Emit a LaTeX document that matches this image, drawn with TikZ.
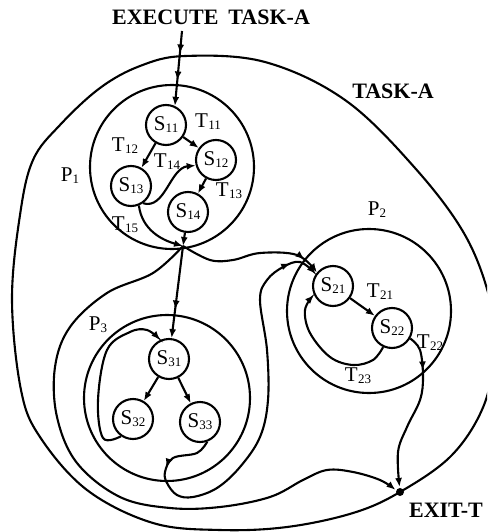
\documentclass[tikz,border=0pt]{standalone}
\usepackage{fontspec}
\setmainfont{Liberation Serif}
\usetikzlibrary{arrows.meta,decorations.markings}

% letter with a lowered index, as in S11 or P1
\newcommand{\lab}[2]{#1\kern0.3pt\raisebox{-2pt}{\fontsize{13}{13}\selectfont #2}}

\begin{document}
\begin{tikzpicture}[x=1pt,y=-1pt,line width=2.1pt,
  sbox/.style={circle,draw,line width=2.1pt,minimum size=40pt,inner sep=0pt,
               font=\fontsize{21}{21}\selectfont},
  region/.style={circle,draw,line width=2.1pt,inner sep=0pt},
  tag/.style={inner sep=0pt,font=\fontsize{21}{21}\selectfont},
  caption/.style={inner sep=0pt,font=\fontsize{22}{22}\selectfont\bfseries},
  tip/.style={-{Latex[length=9pt,width=7pt]}},
  midarrow/.style={postaction={decorate,decoration={markings,
      mark=at position #1 with {\arrow{Latex[length=9pt,width=7pt]}}}}}
]
\clip (0,0) rectangle (487,532);

% processes
\node[region,minimum size=164pt] (p1) at (172,167) {};
\node[region,minimum size=164pt] (p2) at (369,311) {};
\node[region,minimum size=166pt] (p3) at (167,398) {};

% states
\node[sbox] (s11) at (166,125) {\lab{S}{11}};
\node[sbox] (s12) at (216,160) {\lab{S}{12}};
\node[sbox] (s13) at (131,186) {\lab{S}{13}};
\node[sbox] (s14) at (188,212) {\lab{S}{14}};
\node[sbox] (s21) at (333,286) {\lab{S}{21}};
\node[sbox] (s22) at (392,328) {\lab{S}{22}};
\node[sbox] (s31) at (169,359) {\lab{S}{31}};
\node[sbox] (s32) at (133,419) {\lab{S}{32}};
\node[sbox] (s33) at (200,422) {\lab{S}{33}};

\coordinate (J) at (183,246);
\coordinate (entry) at (182,31);
\node[circle,fill,inner sep=0pt,minimum size=8pt] (exit) at (400,492) {};

% task boundary
\draw plot[smooth cycle,tension=0.6] coordinates {
  (185,56) (265,62) (345,100) (415,168) (465,235) (490,300) (494,350)
  (484,405) (452,455) (exit.center) (353,513) (287,527) (220,530)
  (153,523) (87,490) (40,437) (21,390) (12,300) (20,215) (33,160)
  (60,125) (100,88) (140,66)};

% texts
\node[caption] (title) at (211,17) {EXECUTE\hspace{10pt}TASK-A};
\node[caption] (task) at (393,91) {TASK-A};
\node[caption] (exitlabel) at (446,510) {EXIT-T};
\node[tag] (lp1) at (70,176) {\lab{P}{1}};
\node[tag] (lp2) at (377,210) {\lab{P}{2}};
\node[tag] (lp3) at (98,325) {\lab{P}{3}};
\node[tag] (t11) at (208,122) {\lab{T}{11}};
\node[tag] (t12) at (125,146) {\lab{T}{12}};
\node[tag] (t14) at (167,162) {\lab{T}{14}};
\node[tag] (t13) at (229,191) {\lab{T}{13}};
\node[tag] (t15) at (125,225) {\lab{T}{15}};
\node[tag] (t21) at (380,292) {\lab{T}{21}};
\node[tag] (t22) at (430,343) {\lab{T}{22}};
\node[tag] (t23) at (358,376) {\lab{T}{23}};

% transitions
\draw[tip,midarrow=0.3,midarrow=0.66] (entry) -- (s11.65);
\draw[tip] (s11) -- (s12);
\draw[tip] (s11) -- (s13);
\draw[tip] (s12) -- (s14);
\draw[tip] (s13.-55) .. controls (165,210) and (170,168) .. (s12.195);
\draw[tip] (s13.-68) .. controls (142,230) and (162,240) .. (J);
\draw[tip] (s14) -- (J);
\draw[tip,midarrow=64pt] (J) -- (s31);
\draw[tip,midarrow=-18pt] plot[smooth,tension=0.6] coordinates {
  (J) (210,260) (233,260) (260,253) (297,255) (s21.140)};
\draw[tip] plot[smooth,tension=0.6] coordinates {
  (J) (153,273) (107,293) (70,327) (55,367) (57,417) (77,463) (120,497)
  (170,508) (220,507) (270,497) (303,480) (327,470) (353,472) (380,480)
  (exit.155)};
\draw[tip] (s21) -- (s22);
\draw[tip] plot[smooth,tension=0.6] coordinates {
  (s22.-115) (373,360) (353,365) (330,357) (310,333) (305,310) (s21.-155)};
\draw[tip,midarrow=36pt] plot[smooth,tension=0.6] coordinates {
  (s22.-30) (420,350) (423,377) (420,400) (407,427) (398,452) (exit.95)};
\draw[tip] (s31) -- (s32);
\draw[tip] (s31) -- (s33);
\draw[tip] plot[smooth,tension=0.6] coordinates {
  (s32.-125) (103,438) (98,400) (107,350) (130,332) (147,330) (s31.115)};
\draw[tip,midarrow=52pt,midarrow=-30pt] plot[smooth,tension=0.6] coordinates {
  (s33.-70) (197,453) (173,458) (165,472) (167,483) (177,495) (193,497)
  (217,488) (240,467) (260,437) (268,400) (267,350) (260,300) (267,280)
  (283,267) (300,262) (s21.145)};
\end{tikzpicture}
\end{document}
